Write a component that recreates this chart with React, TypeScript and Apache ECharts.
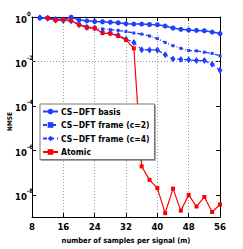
import React, { useEffect, useRef } from "react";
import * as echarts from "echarts";

const samples = [10, 12, 14, 16, 18, 20, 22, 24, 26, 28, 30, 32, 34, 36, 38, 40, 42, 44, 46, 48, 50, 52, 54, 56];
const basisVals = [0.92, 0.9, 0.82, 0.8, 0.98, 0.74, 0.67, 0.63, 0.61, 0.58, 0.55, 0.5, 0.48, 0.48, 0.46, 0.45, 0.39, 0.32, 0.28, 0.26, 0.25, 0.24, 0.21, 0.18];
const frame2Vals = [0.92, 0.88, 0.75, 0.72, 0.68, 0.47, 0.37, 0.31, 0.29, 0.27, 0.25, 0.22, 0.19, 0.17, 0.14, 0.107, 0.072, 0.051, 0.039, 0.031, 0.03, 0.026, 0.023, 0.018];
const frame4Vals = [0.92, 0.88, 0.74, 0.7, 0.66, 0.45, 0.35, 0.32, 0.21, 0.19, 0.15, 0.1, 0.072, 0.034, 0.033, 0.033, 0.02, 0.013, 0.0123, 0.0119, 0.011, 0.011, 0.0074, 0.004];
const atomicVals = [null, 0.9, 0.71, 0.76, 0.7, 0.45, 0.33, 0.31, 0.19, 0.18, 0.14, 0.093, 0.039, 1.9e-7, 4.7e-8, 2e-8, 1.5e-9, 1.9e-8, 1.95e-9, 1.0e-8, 3e-9, 8e-9, 1.7e-9, 3.7e-9];
const seriesNames = ["CS\u2212DFT basis", "CS\u2212DFT frame (c=2)", "CS\u2212DFT frame (c=4)", "Atomic"];
const xTicks = [8, 16, 24, 32, 40, 48, 56];
const yTicks = [1, 1e-2, 1e-4, 1e-6, 1e-8];

const FONT = "'Liberation Sans Narrow', 'DejaVu Sans Condensed', 'Liberation Sans', sans-serif";
const BLUE = "#1f3fff";
const RED = "#ff0000";

export default function App() {
  const ref = useRef<HTMLDivElement>(null);
  useEffect(() => {
    if (!ref.current) return;
    const chart = echarts.init(ref.current, null, { renderer: "svg" });
    const pair = (vals: (number | null)[]) => samples.map((x, i) => [x, vals[i] === null ? "-" : vals[i]]);
    const dotted = { color: "#999", type: [1, 2] as any, width: 1 };
    const supers = (v: number) => {
      const e = Math.round(Math.log10(v));
      return "{b|10}{s|" + (e === 0 ? "0" : "-" + Math.abs(e)) + "}";
    };
    chart.setOption({
      animation: false,
      backgroundColor: "#fff",
      grid: { left: 32, right: 23, top: 17, bottom: 28, show: false },
      legend: {
        orient: "vertical",
        left: 40,
        top: 104,
        padding: [3, 5, 3, 2],
        itemGap: 4.5,
        itemWidth: 15,
        itemHeight: 7,
        backgroundColor: "#fff",
        borderColor: "#777",
        borderWidth: 1,
        shadowColor: "rgba(0,0,0,0.35)",
        shadowOffsetX: 1,
        shadowOffsetY: 1,
        shadowBlur: 1,
        textStyle: { fontFamily: FONT, fontWeight: "bold", fontSize: 8.5, color: "#000", padding: [0, 0, 0, -2] },
        data: seriesNames,
      },
      xAxis: [
        {
          type: "value",
          min: xTicks[0],
          max: xTicks[xTicks.length - 1],
          interval: 8,
          name: "number of samples per signal (m)",
          nameLocation: "middle",
          nameGap: 17,
          nameTextStyle: { fontFamily: FONT, fontWeight: "bold", fontSize: 7.5, color: "#000" },
          axisLine: { lineStyle: { color: "#000", width: 1 } },
          axisTick: { inside: true, length: 4, lineStyle: { color: "#000" } },
          axisLabel: { fontFamily: FONT, fontWeight: "bold", fontSize: 9.5, color: "#000", margin: 4 },
          splitLine: { show: true, lineStyle: dotted },
        },
        {
          type: "value",
          position: "top",
          min: xTicks[0],
          max: xTicks[xTicks.length - 1],
          interval: 8,
          axisLine: { show: true, onZero: false, lineStyle: { color: "#000", width: 1 } },
          axisTick: { inside: true, length: 4, lineStyle: { color: "#000" } },
          axisLabel: { show: false },
          splitLine: { show: false },
        },
      ],
      yAxis: [
        {
          type: "log",
          logBase: 10,
          min: 1e-9,
          max: 1,
          axisLine: { show: true, onZero: false, lineStyle: { color: "#000", width: 1 } },
          axisTick: { inside: true, length: 4, lineStyle: { color: "#000" }, customValues: yTicks },
          axisLabel: {
            align: "left",
            margin: 17,
            hideOverlap: false,
            customValues: yTicks,
            formatter: supers,
            rich: {
              b: { fontFamily: FONT, fontWeight: "bold", fontSize: 9.5, color: "#000", lineHeight: 14, verticalAlign: "bottom" },
              s: { fontFamily: FONT, fontWeight: "bold", fontSize: 6, color: "#000", lineHeight: 8, verticalAlign: "top" },
            },
          },
          splitLine: { show: false },
        },
        {
          type: "log",
          logBase: 10,
          position: "right",
          min: 1e-9,
          max: 1,
          axisLine: { show: true, onZero: false, lineStyle: { color: "#000", width: 1 } },
          axisTick: { inside: true, length: 4, lineStyle: { color: "#000" }, customValues: yTicks },
          axisLabel: { show: false },
          splitLine: { show: false },
        },
      ],
      graphic: [
        {
          type: "text",
          left: 6,
          top: 112,
          rotation: Math.PI / 2,
          style: { text: "NMSE", font: "bold 6.5px " + FONT, fill: "#000" },
        },
      ],
      series: [
        {
          name: seriesNames[0],
          type: "line",
          data: pair(basisVals),
          symbol: "circle",
          symbolSize: 5,
          itemStyle: { color: BLUE },
          lineStyle: { color: BLUE, width: 1.5 },
          z: 3,
          markLine: {
            silent: true,
            symbol: "none",
            label: { show: false },
            lineStyle: dotted,
            z: 1,
            data: yTicks.slice(1).map((v) => ({ yAxis: v })),
          },
        },
        {
          name: seriesNames[1],
          type: "line",
          data: pair(frame2Vals),
          symbol: "rect",
          symbolSize: 3,
          itemStyle: { color: BLUE },
          lineStyle: { color: BLUE, width: 1.3, type: [4, 2, 1, 2] },
        },
        {
          name: seriesNames[2],
          type: "line",
          data: pair(frame4Vals),
          symbol: "diamond",
          symbolSize: [5, 7],
          itemStyle: { color: BLUE },
          lineStyle: { color: BLUE, width: 1.3, type: [4, 3] },
        },
        {
          name: seriesNames[3],
          type: "line",
          data: pair(atomicVals),
          symbol: "rect",
          symbolSize: 4,
          itemStyle: { color: RED },
          lineStyle: { color: RED, width: 1.2 },
        },
      ],
    });
    return () => chart.dispose();
  }, []);
  return <div ref={ref} style={{ width: 243, height: 249, position: "absolute", left: 0, top: 0 }} />;
}
